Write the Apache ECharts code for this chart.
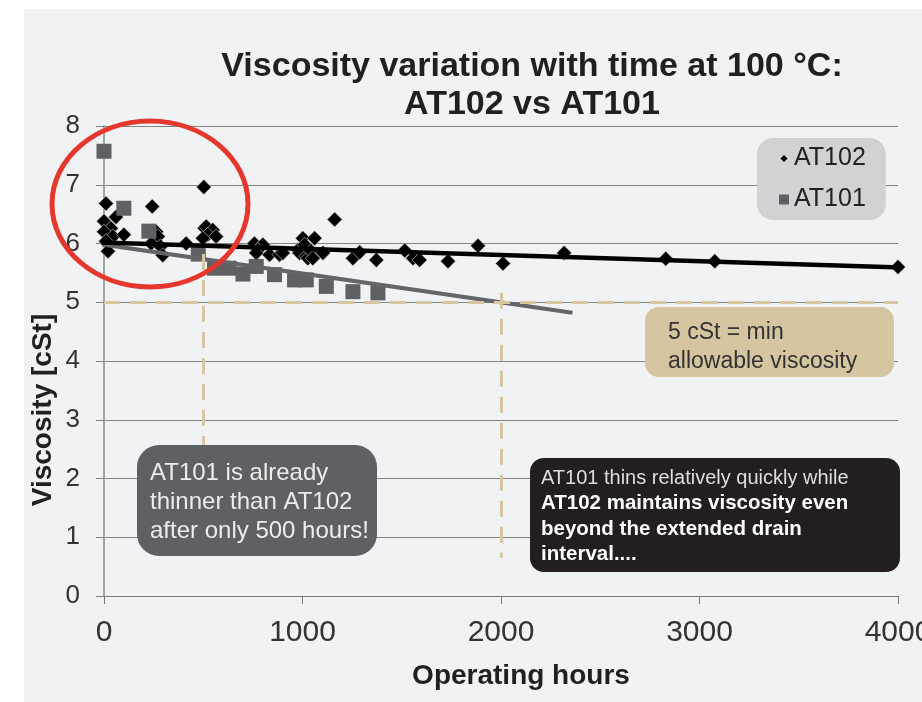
<!DOCTYPE html>
<html lang="en">
<head>
<meta charset="UTF-8">
<title>Viscosity variation with time</title>
<style>
    html, body { margin: 0; padding: 0; background: #fff; }
    .panel { position: absolute; left: 24px; top: 9px; width: 898px; height: 693px; background: #f1f2f4; }
    #main { position: absolute; left: 0; top: 0; width: 922px; height: 702px; }
</style>
</head>
<body>
<div class="panel"></div>
<div id="main"></div>
<script src="https://cdn.jsdelivr.net/npm/echarts@6.0.0/dist/echarts.min.js"></script>
<script>
    var FONT = '"Liberation Sans", Arial, sans-serif';

    // operating hours / viscosity [cSt]
    var at102 = [
        [10, 6.68], [0, 6.38], [60, 6.45], [35, 6.26], [0, 6.2], [45, 6.12], [10, 6.04], [100, 6.15], [20, 5.87],
        [243, 6.63], [263, 6.2], [271, 6.12], [238, 6.0], [285, 5.95], [296, 5.8], [414, 6.0],
        [503, 6.96], [507, 6.26], [515, 6.29], [548, 6.23], [523, 6.15], [565, 6.12], [498, 6.09],
        [758, 6.0], [800, 5.98], [775, 5.89], [767, 5.84], [834, 5.81], [884, 5.81], [901, 5.84],
        [977, 5.89], [985, 5.84], [1002, 6.09], [1011, 5.98], [1019, 5.78], [1027, 5.75], [1044, 5.87],
        [1052, 5.75], [1061, 6.09], [1103, 5.84], [1162, 6.41], [1254, 5.75], [1288, 5.85], [1372, 5.72],
        [1515, 5.88], [1557, 5.75], [1590, 5.72], [1733, 5.70], [1884, 5.96], [2010, 5.66], [2318, 5.84],
        [2830, 5.74], [3077, 5.70], [4000, 5.60]
    ];
    var at101 = [
        [0, 7.57], [100, 6.6], [226, 6.21], [475, 5.82], [557, 5.58], [630, 5.58], [700, 5.48],
        [767, 5.61], [859, 5.47], [960, 5.38], [1019, 5.38], [1120, 5.27], [1254, 5.18], [1380, 5.16]
    ];
    // trend lines (as drawn in the source)
    var at102Trend = [[-50, 6.02], [4300, 5.56]];
    var at101Trend = [[-40, 6.0], [2360, 4.82]];
    // reference lines
    var minViscosity = 5;
    var drainLines = [[500, 5.82, 0.7], [2000, 5.16, 0.65]];

    var xTicks = [0, 1000, 2000, 3000, 4000];
    var yTicks = [0, 1, 2, 3, 4, 5, 6, 7, 8];

    var myChart = echarts.init(document.getElementById('main'));

    function box(x, y, w, h, r, fill) {
        return {
            type: 'rect', silent: true, z: 20,
            shape: { x: x, y: y, width: w, height: h, r: r },
            style: { fill: fill }
        };
    }
    function txt(x, y, text, size, weight, color, lh) {
        return {
            type: 'text', silent: true, z: 21,
            style: {
                x: x, y: y, text: text, fill: color,
                fontSize: size, fontWeight: weight, fontFamily: FONT,
                lineHeight: lh || size, align: 'left', textAlign: 'left',
                verticalAlign: 'middle', textVerticalAlign: 'middle'
            }
        };
    }

    myChart.setOption({
        animation: false,
        grid: { left: 104, right: 24, top: 126, bottom: 106, outerBoundsMode: 'none', containLabel: false },
        legend: {
            data: [{ name: 'AT102', icon: 'diamond' }, { name: 'AT101', icon: 'rect' }],
            orient: 'vertical',
            left: 757, top: 138,
            padding: [8, 20, 8, 21],
            itemGap: 16, itemWidth: 10, itemHeight: 10,
            backgroundColor: '#d1d2d4',
            borderRadius: 16,
            textStyle: { fontSize: 25, color: '#222', fontFamily: FONT }
        },
        xAxis: {
            type: 'value', min: 0, max: 4000, interval: 1000,
            axisLine: { show: true, lineStyle: { color: '#7a7a7a', width: 1 } },
            axisTick: { show: true, length: 8, lineStyle: { color: '#7a7a7a' } },
            axisLabel: {
                fontSize: 30, color: '#333', margin: 22, fontFamily: FONT,
                formatter: function (v) { return xTicks.indexOf(v) >= 0 ? String(v) : ''; }
            },
            splitLine: { show: false }
        },
        yAxis: {
            type: 'value', min: 0, max: 8, interval: 1,
            axisLine: { show: true, lineStyle: { color: '#a3a3a3', width: 2 } },
            axisTick: { show: true, length: 8, lineStyle: { color: '#808080' } },
            axisLabel: {
                fontSize: 26, color: '#333', margin: 24, fontFamily: FONT,
                formatter: function (v) { return yTicks.indexOf(v) >= 0 ? String(v) : ''; }
            },
            splitLine: { lineStyle: { color: '#858585', width: 1 } }
        },
        series: [{
            name: 'refs',
            type: 'line',
            data: [],
            z: 1,
            markLine: {
                silent: true,
                symbol: ['none', 'none'],
                label: { show: false },
                lineStyle: { color: '#d6c7a3', width: 3, type: [16, 10] },
                data: [{ yAxis: minViscosity }].concat(drainLines.map(function (d) {
                    return [{ coord: [d[0], d[1]] }, { coord: [d[0], d[2]] }];
                }))
            }
        }, {
            name: 'AT102',
            type: 'scatter',
            data: at102,
            symbol: 'diamond',
            symbolSize: 15,
            itemStyle: { color: '#000', opacity: 1, borderColor: '#d8d8d8', borderWidth: 0.6 },
            z: 2
        }, {
            name: 'AT101',
            type: 'scatter',
            data: at101,
            symbol: 'rect',
            symbolSize: 15,
            itemStyle: { color: '#5f6064', opacity: 1 },
            z: 3
        }, {
            name: 'AT101 trend',
            type: 'line',
            data: at101Trend,
            symbol: 'none',
            clip: false,
            lineStyle: { color: '#646569', width: 4 },
            z: 4
        }, {
            name: 'AT102 trend',
            type: 'line',
            data: at102Trend,
            symbol: 'none',
            clip: false,
            lineStyle: { color: '#000', width: 4.5 },
            z: 5
        }],
        graphic: [
            {
                type: 'text', silent: true, z: 21,
                style: {
                    x: 532, y: 86, text: 'Viscosity variation with time at 100 \u00b0C:\nAT102 vs AT101',
                    fill: '#231f20', fontSize: 34, fontWeight: 'bold', fontFamily: FONT, lineHeight: 38,
                    align: 'center', textAlign: 'center', verticalAlign: 'middle', textVerticalAlign: 'middle'
                }
            },
            {
                type: 'text', silent: true, z: 21,
                style: {
                    x: 521, y: 676, text: 'Operating hours',
                    fill: '#231f20', fontSize: 28, fontWeight: 'bold', fontFamily: FONT,
                    align: 'center', textAlign: 'center', verticalAlign: 'middle', textVerticalAlign: 'middle'
                }
            },
            {
                type: 'text', silent: true, z: 21,
                x: 43, y: 410, rotation: Math.PI / 2,
                style: {
                    x: 0, y: 0, text: 'Viscosity [cSt]',
                    fill: '#231f20', fontSize: 28, fontWeight: 'bold', fontFamily: FONT,
                    align: 'center', textAlign: 'center', verticalAlign: 'middle', textVerticalAlign: 'middle'
                }
            },
            {
                type: 'ellipse', silent: true, z: 22,
                shape: { cx: 150, cy: 204, rx: 98, ry: 83 },
                style: { fill: 'none', stroke: '#e5372d', lineWidth: 5 }
            },
            box(137, 445, 240, 111, 22, '#5f6064'),
            txt(150, 502, 'AT101 is already\nthinner than AT102\nafter only 500 hours!', 24, 'normal', '#ececec', 29),
            box(645, 307, 249, 70, 14, '#d5c5a1'),
            txt(668, 347, '5 cSt = min\nallowable viscosity', 23, 'normal', '#333', 29),
            box(530, 458, 370, 114, 14, '#231f20'),
            txt(541, 478, 'AT101 thins relatively quickly while', 20, 'normal', '#dedede'),
            txt(541, 529, 'AT102 maintains viscosity even\nbeyond the extended drain\ninterval....', 20.5, 'bold', '#fff', 25.5)
        ]
    });
</script>
</body>
</html>
